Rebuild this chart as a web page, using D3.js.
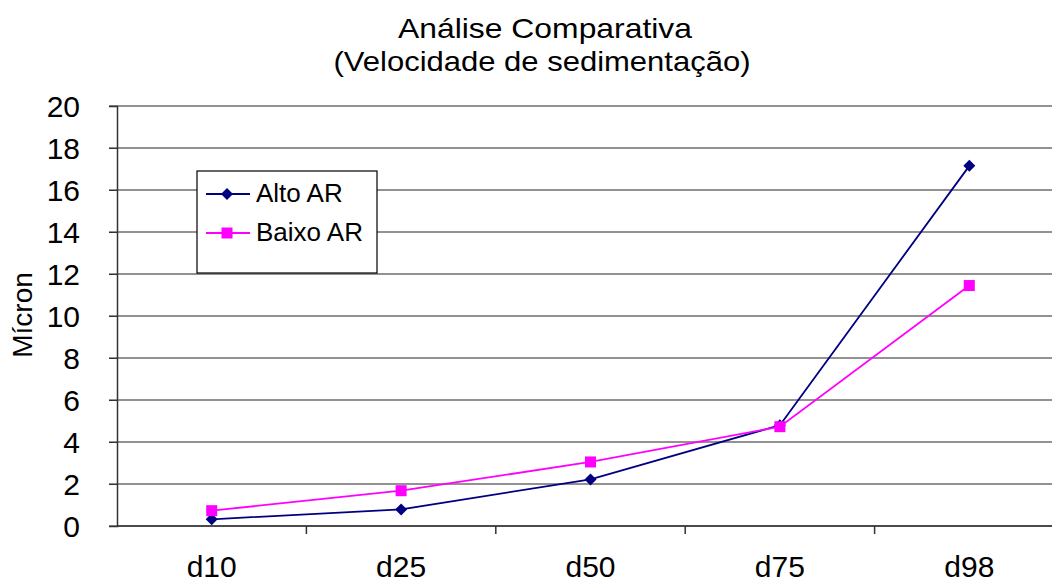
<!DOCTYPE html>
<html>
<head>
<meta charset="utf-8">
<script src="https://cdn.jsdelivr.net/npm/d3@7"></script>
<style>
  body { margin: 0; background: #fff; }
  svg { display: block; font-family: "Liberation Sans", Arial, sans-serif; }
</style>
</head>
<body>
<div class="chart"></div>
<script>
var categories = [`d10`, `d25`, `d50`, `d75`, `d98`];
var altoAR = [0.32, 0.79, 2.22, 4.8, 17.15];
var baixoAR = [0.73, 1.68, 3.05, 4.73, 11.45];
var yTicks = [0, 2, 4, 6, 8, 10, 12, 14, 16, 18, 20];

var series = [
    {name: `Alto AR`, values: altoAR, color: `#000080`, marker: `diamond`},
    {name: `Baixo AR`, values: baixoAR, color: `#ff00ff`, marker: `square`}
];

var fullWidth = 1052, fullHeight = 580;
var margin = {top: 106, left: 117, bottom: 54, right: -12};
var width = fullWidth - margin.left - margin.right;
var height = fullHeight - margin.top - margin.bottom;

var root = d3.select(`.chart`)
    .append(`svg`)
    .attr(`width`, fullWidth)
    .attr(`height`, fullHeight);

// title (two lines, a bit wider than plain Arial in the original)
root.append(`text`)
    .attr(`x`, 545).attr(`y`, 38)
    .attr(`text-anchor`, `middle`)
    .attr(`textLength`, 294)
    .attr(`lengthAdjust`, `spacingAndGlyphs`)
    .style(`font-size`, `28px`)
    .text(`Análise Comparativa`);
root.append(`text`)
    .attr(`x`, 542).attr(`y`, 71)
    .attr(`text-anchor`, `middle`)
    .attr(`textLength`, 417)
    .attr(`lengthAdjust`, `spacingAndGlyphs`)
    .style(`font-size`, `28px`)
    .text(`(Velocidade de sedimentação)`);

// y axis title
root.append(`text`)
    .attr(`transform`, `translate(32, 315) rotate(-90)`)
    .attr(`text-anchor`, `middle`)
    .style(`font-size`, `28px`)
    .text(`Mícron`);

var svg = root.append(`g`)
    .attr(`transform`, `translate(${margin.left},${margin.top})`);

var yScale = d3.scaleLinear()
    .domain([0, 20])
    .range([height, 0]);

var xScale = d3.scaleBand()
    .domain(categories)
    .range([0, width]);

// gridlines
svg.append(`g`)
    .selectAll(`line`)
    .data(yTicks)
    .enter()
    .append(`line`)
    .attr(`x1`, -8)
    .attr(`x2`, width)
    .attr(`y1`, d => yScale(d))
    .attr(`y2`, d => yScale(d))
    .style(`stroke`, `#6e6e6e`)
    .style(`stroke-width`, 1.5);

var yAxis = d3.axisLeft(yScale)
    .tickValues(yTicks)
    .tickSize(8)
    .tickPadding(29);
svg.append(`g`)
    .call(yAxis)
    .call(g => g.select(`.domain`).attr(`stroke`, `#333`).attr(`stroke-width`, 1.5))
    .call(g => g.selectAll(`.tick line`).attr(`stroke`, `#333`))
    .selectAll(`text`)
    .style(`font-size`, `30px`)
    .style(`font-family`, `"Liberation Sans", Arial, sans-serif`)
    .attr(`dy`, `0.36em`)
    .attr(`fill`, `#000`);

// x axis: ticks between categories
var xAxisG = svg.append(`g`)
    .attr(`transform`, `translate(0, ${height})`);
xAxisG.append(`line`)
    .attr(`x1`, 0).attr(`x2`, width)
    .style(`stroke`, `#333`).style(`stroke-width`, 1.5);
xAxisG.selectAll(`.xtick`)
    .data(categories.slice(1))
    .enter()
    .append(`line`)
    .attr(`class`, `xtick`)
    .attr(`x1`, d => xScale(d)).attr(`x2`, d => xScale(d))
    .attr(`y1`, 0).attr(`y2`, 8)
    .style(`stroke`, `#333`).style(`stroke-width`, 1.5);
xAxisG.selectAll(`.xlabel`)
    .data(categories)
    .enter()
    .append(`text`)
    .attr(`class`, `xlabel`)
    .attr(`x`, d => xScale(d) + xScale.bandwidth() / 2)
    .attr(`y`, 51)
    .attr(`text-anchor`, `middle`)
    .style(`font-size`, `30px`)
    .text(d => d);

var line = d3.line()
    .x((d, i) => xScale(categories[i]) + xScale.bandwidth() / 2)
    .y(d => yScale(d));

function drawMarker(sel, kind, color) {
    if (kind === `diamond`) {
        sel.append(`path`)
            .attr(`d`, `M0,-6L6,0L0,6L-6,0Z`)
            .style(`fill`, color);
    } else {
        sel.append(`rect`)
            .attr(`x`, -5.5).attr(`y`, -5.5)
            .attr(`width`, 11).attr(`height`, 11)
            .style(`fill`, color);
    }
}

series.forEach(s => {
    svg.append(`path`)
        .datum(s.values)
        .attr(`d`, line)
        .style(`fill`, `none`)
        .style(`stroke`, s.color)
        .style(`stroke-width`, 1.8);

    svg.selectAll(null)
        .data(s.values)
        .enter()
        .append(`g`)
        .attr(`transform`, (d, i) => `translate(${xScale(categories[i]) + xScale.bandwidth() / 2},${yScale(d)})`)
        .each(function () { drawMarker(d3.select(this), s.marker, s.color); });
});

// legend
var legend = root.append(`g`)
    .attr(`transform`, `translate(197, 171)`);
legend.append(`rect`)
    .attr(`width`, 180).attr(`height`, 102)
    .style(`fill`, `#fff`)
    .style(`stroke`, `#000`)
    .style(`stroke-width`, 1.2);

series.forEach((s, i) => {
    var row = legend.append(`g`)
        .attr(`transform`, `translate(0, ${23 + i * 39})`);
    row.append(`line`)
        .attr(`x1`, 9).attr(`x2`, 53)
        .style(`stroke`, s.color)
        .style(`stroke-width`, 1.8);
    var m = row.append(`g`).attr(`transform`, `translate(30,0)`);
    drawMarker(m, s.marker, s.color);
    row.append(`text`)
        .attr(`x`, 59).attr(`y`, 8)
        .style(`font-size`, `26px`)
        .text(s.name);
});
</script>
</body>
</html>
